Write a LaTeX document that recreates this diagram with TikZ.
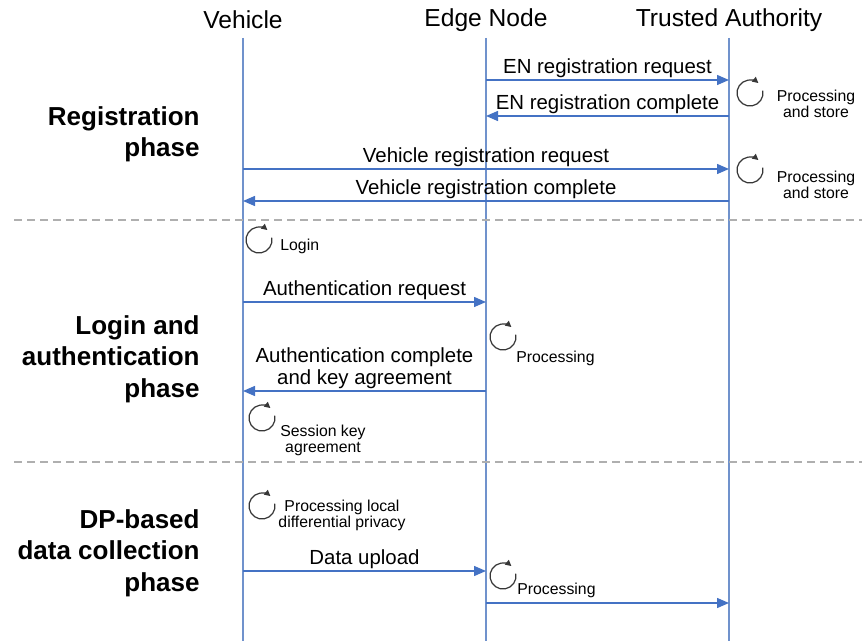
\documentclass[tikz,border=0pt]{standalone}
\usepackage{fontspec}
\setmainfont{Liberation Sans}
\usetikzlibrary{arrows.meta}
\definecolor{msgblue}{RGB}{68,114,196}
\definecolor{lifeblue}{RGB}{112,146,204}
\definecolor{sepgray}{RGB}{175,175,175}
\definecolor{icongray}{RGB}{55,55,55}
\begin{document}
\begin{tikzpicture}[x=0.5pt,y=-0.5pt,
    actor/.style={font=\fontsize{12.3}{14}\selectfont},
    phase/.style={font=\fontsize{13}{15.7}\selectfont\bfseries,align=right,anchor=east,inner sep=0pt},
    life/.style={lifeblue,line width=0.6pt},
    msg/.style={msgblue,line width=0.7pt,-{Triangle[length=6pt,width=5pt]}},
    lbl/.style={text=black,font=\fontsize{10.2}{10.6}\selectfont,align=center,inner sep=1pt},
    sep/.style={sepgray,dash pattern=on 4pt off 2.5pt,line width=0.8pt},
    spin/.style={icongray,line width=0.6pt,-{Triangle[length=3pt,width=3pt]}},
    note/.style={font=\fontsize{7.9}{8}\selectfont,align=center,inner sep=0pt}]
        \useasboundingbox (0,0) rectangle (862,641);
        \node[actor] (veh) at (243,20) {Vehicle};
        \node[actor] (edge) at (486,20) {Edge Node};
        \node[actor] (ta) at (729,20) {Trusted Authority};
        \coordinate (vehtop) at (243,38);
        \coordinate (edgetop) at (486,38);
        \coordinate (tatop) at (729,38);
        \coordinate (vehend) at (243,641);
        \coordinate (edgeend) at (486,641);
        \coordinate (taend) at (729,641);
        \draw[life] (vehtop) -- (vehend);
        \draw[life] (edgetop) -- (edgeend);
        \draw[life] (tatop) -- (taend);
        % phases
        \node[phase] (reg) at (200,134) {Registration\\phase};
        \node[phase] (auth) at (200,359) {Login and\\authentication\\phase};
        \node[phase] (dp) at (200,553) {DP-based\\data collection\\phase};
        \draw[sep] (14,220) -- (862,220);
        \draw[sep] (14,462) -- (862,462);
        % messages
        \draw[msg] (edge |- 0,80) -- (ta |- 0,80) node[lbl,midway,above] {EN registration request};
        \draw[msg] (ta |- 0,116) -- (edge |- 0,116) node[lbl,midway,above] {EN registration complete};
        \draw[msg] (veh |- 0,169) -- (ta |- 0,169) node[lbl,midway,above] {Vehicle registration request};
        \draw[msg] (ta |- 0,201) -- (veh |- 0,201) node[lbl,midway,above] {Vehicle registration complete};
        \draw[msg] (veh |- 0,302) -- (edge |- 0,302) node[lbl,midway,above] {Authentication request};
        \draw[msg] (edge |- 0,391) -- (veh |- 0,391) node[lbl,midway,above] {Authentication complete\\and key agreement};
        \draw[msg] (veh |- 0,571) -- (edge |- 0,571) node[lbl,midway,above] {Data upload};
        \draw[msg] (edge |- 0,603) -- (ta |- 0,603);
        % processing
        \foreach \c in {(750,93),(750,170),(259,240),(503,337),(262,418),(262,506),(503,576)}
          \draw[spin] \c ++(10:6.5pt) arc[start angle=10,end angle=-310,radius=6.5pt];
        \node[note] (taproc1) at (816,104) {Processing\\and store};
        \node[note] (taproc2) at (816,185) {Processing\\and store};
        \node[note,anchor=base west] (login) at (280,251) {Login};
        \node[note,anchor=base west] (enproc1) at (516,363) {Processing};
        \node[note] (session) at (323,440) {Session key\\agreement};
        \node[note] (ldp) at (342,515) {Processing local\\differential privacy};
        \node[note,anchor=base west] (enproc2) at (517,594) {Processing};
      \end{tikzpicture}
\end{document}
